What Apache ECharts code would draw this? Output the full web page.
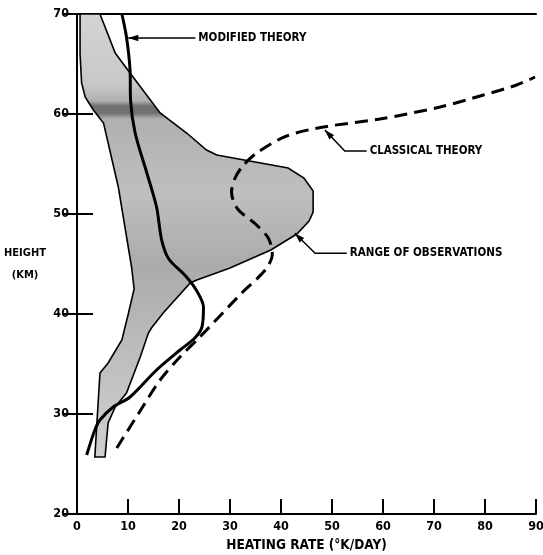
<!DOCTYPE html>
<html>
<head>
<meta charset="utf-8">
<script src="https://cdn.jsdelivr.net/npm/echarts@6/dist/echarts.min.js"></script>
<style>
  html, body { margin: 0; padding: 0; background: #fff; }
  #chart { width: 543px; height: 555px; }
</style>
</head>
<body>
<div id="chart"></div>
<script>
// Axis ticks
const heatingTicks = [0, 10, 20, 30, 40, 50, 60, 70, 80, 90];
const heightTicks = [20, 30, 40, 50, 60, 70];

// Envelope of observed heating rates: [heating rate °K/day, height km], traced clockwise
const observedRange = [
  [0.6, 70], [4.5, 70], [7.5, 66.1], [10.4, 64.1], [16.3, 60.1], [21.5, 58.1],
  [25.4, 56.4], [27.4, 55.9], [41.4, 54.6], [44.5, 53.6], [46.3, 52.3], [46.3, 50.2],
  [45.5, 49.3], [43.1, 48.0], [38.0, 46.4], [30.0, 44.6], [23.5, 43.4], [22.2, 43.1],
  [16.9, 40.1], [14.6, 38.6], [14.0, 38.1], [12.4, 35.7], [9.7, 32.1], [7.5, 30.7],
  [6.1, 29.1], [5.5, 25.7], [3.5, 25.7], [3.9, 29.1], [4.5, 34.1], [6.1, 35.1],
  [8.8, 37.4], [10.1, 40.1], [11.2, 42.5], [10.7, 44.7], [8.1, 52.7], [5.2, 59.1],
  [3.2, 60.4], [1.6, 61.7], [0.9, 63.1], [0.6, 66.0]
];

// Modified theory profile
const modifiedTheory = [
  [8.8, 70], [9.7, 67.7], [10.4, 64.4], [10.5, 61.4], [11.4, 58.1], [13.7, 54.1],
  [15.6, 50.7], [16.6, 47.4], [18.0, 45.5], [21.3, 43.8], [23.5, 42.3], [24.8, 40.7],
  [24.5, 38.7], [23.1, 37.6], [20.2, 36.4], [15.6, 34.4], [10.4, 31.7], [7.1, 30.7],
  [4.5, 29.4], [3.5, 28.4], [1.9, 25.9]
];

// Classical theory profile
const classicalTheory = [
  [7.8, 26.6], [12.0, 30.0], [16.3, 33.4], [20.0, 35.6], [24.1, 37.7], [32.3, 42.1],
  [36.9, 44.4], [38.3, 46.0], [37.5, 47.6], [35.0, 49.0], [31.5, 50.5], [30.3, 52.2],
  [31.0, 53.6], [32.5, 54.8], [35.2, 56.1], [41.1, 57.8], [48.3, 58.7], [59.4, 59.5],
  [71.2, 60.7], [79.7, 61.9], [86.2, 62.9], [89.8, 63.7]
];

// Callout labels with leader lines (tip on the curve, optional elbow, end at the text)
const callouts = [
  { text: 'MODIFIED THEORY', tip: [10.06, 67.6], elbow: null, end: [23.2, 67.6] },
  { text: 'CLASSICAL THEORY', tip: [48.6, 58.4], elbow: [52.5, 56.3], end: [56.8, 56.3] },
  { text: 'RANGE OF OBSERVATIONS', tip: [42.7, 48.07], elbow: [46.7, 46.07], end: [52.9, 46.07] }
];

const FONT = '"DejaVu Sans Condensed", "DejaVu Sans", sans-serif';
const chart = echarts.init(document.getElementById('chart'), null, { renderer: 'canvas' });

const baseText = { color: '#000', fontFamily: FONT, fontWeight: 'bold' };

function renderEnvelope(params, api) {
  if (params.dataIndex !== 0) return null;
  const pts = observedRange.map(p => api.coord(p));
  const yTop = api.coord([0, 70])[1];
  const yBot = api.coord([0, 20])[1];
  const off = h => (70 - h) / 50;
  const fill = new echarts.graphic.LinearGradient(0, yTop, 0, yBot, [
    { offset: off(70), color: '#d4d4d4' },
    { offset: off(63), color: '#c8c8c8' },
    { offset: off(61.3), color: '#b0b0b0' },
    { offset: off(60.8), color: '#707070' },
    { offset: off(60.1), color: '#707070' },
    { offset: off(59.5), color: '#b0b0b0' },
    { offset: off(52), color: '#bfbfbf' },
    { offset: off(45), color: '#ababab' },
    { offset: off(36), color: '#bdbdbd' },
    { offset: off(26), color: '#cfcfcf' }
  ], true);
  return {
    type: 'polygon',
    shape: { points: pts },
    style: { fill: fill, stroke: '#000', lineWidth: 1.6 }
  };
}

function renderCallout(params, api) {
  const c = callouts[params.dataIndex];
  const tip = api.coord(c.tip);
  const end = api.coord(c.end);
  const path = [tip];
  if (c.elbow) path.push(api.coord(c.elbow));
  path.push(end);
  const from = path[1];
  const dx = tip[0] - from[0], dy = tip[1] - from[1];
  const len = Math.sqrt(dx * dx + dy * dy);
  const ux = dx / len, uy = dy / len;
  const headL = 10, headW = 3.2;
  const bx = tip[0] - ux * headL, by = tip[1] - uy * headL;
  const head = [tip, [bx - uy * headW, by + ux * headW], [bx + uy * headW, by - ux * headW]];
  return {
    type: 'group',
    children: [
      { type: 'polyline', shape: { points: path }, style: { stroke: '#000', lineWidth: 1.5, fill: null } },
      { type: 'polygon', shape: { points: head }, style: { fill: '#000' } },
      {
        type: 'text',
        style: {
          text: c.text, x: end[0] + 3, y: end[1], align: 'left', verticalAlign: 'middle',
          fill: '#000', font: 'bold 11.5px ' + FONT
        }
      }
    ]
  };
}

const option = {
  animation: false,
  backgroundColor: '#fff',
  grid: { left: 77, right: 7, top: 14, bottom: 41, containLabel: false, outerBoundsMode: 'none' },
  xAxis: [
    {
      type: 'value', min: heatingTicks[0], max: heatingTicks[heatingTicks.length - 1], interval: 10,
      position: 'bottom',
      axisLine: { show: true, lineStyle: { color: '#000', width: 2 } },
      axisTick: { show: true, inside: true, length: 15, lineStyle: { color: '#000', width: 2 } },
      axisLabel: Object.assign({}, baseText, { margin: 6, fontSize: 12.5 }),
      splitLine: { show: false },
      name: 'HEATING RATE (°K/DAY)', nameLocation: 'middle', nameGap: 24,
      nameTextStyle: Object.assign({}, baseText, { fontSize: 13.5 })
    },
    {
      type: 'value', min: heatingTicks[0], max: heatingTicks[heatingTicks.length - 1], interval: 10,
      position: 'top',
      axisLine: { show: true, lineStyle: { color: '#000', width: 2 } },
      axisTick: { show: false }, axisLabel: { show: false }, splitLine: { show: false }
    }
  ],
  yAxis: [
    {
      type: 'value', min: heightTicks[0], max: heightTicks[heightTicks.length - 1], interval: 10,
      position: 'left',
      axisLine: { show: true, lineStyle: { color: '#000', width: 2 } },
      axisTick: { show: true, inside: true, length: 16, lineStyle: { color: '#000', width: 2 } },
      axisLabel: Object.assign({}, baseText, { margin: 8, fontSize: 12.5 }),
      splitLine: { show: false },
      name: 'HEIGHT\n(KM)', nameLocation: 'middle', nameRotate: 0, nameGap: 52,
      nameTextStyle: Object.assign({}, baseText, {
        align: 'center', lineHeight: 22, fontSize: 11, padding: [6, 0, 0, 0]
      })
    },
    {
      type: 'value', min: heightTicks[0], max: heightTicks[heightTicks.length - 1], interval: 10,
      position: 'right',
      axisLine: { show: true, lineStyle: { color: '#000', width: 2 } },
      axisTick: { show: true, inside: true, length: 14, lineStyle: { color: '#000', width: 2 } },
      axisLabel: { show: false }, splitLine: { show: false }
    }
  ],
  series: [
    {
      name: 'Range of observations', type: 'custom', xAxisIndex: 0, yAxisIndex: 0,
      renderItem: renderEnvelope, data: observedRange, z: 1, silent: true, clip: true
    },
    {
      name: 'Modified theory', type: 'line', xAxisIndex: 0, yAxisIndex: 0,
      data: modifiedTheory, smooth: 0.3, showSymbol: false, z: 3,
      lineStyle: { color: '#000', width: 3 }
    },
    {
      name: 'Classical theory', type: 'line', xAxisIndex: 0, yAxisIndex: 0,
      data: classicalTheory, smooth: 0.3, showSymbol: false, z: 3,
      lineStyle: { color: '#000', width: 3, type: [13, 7] }
    },
    {
      name: 'Callouts', type: 'custom', xAxisIndex: 0, yAxisIndex: 0,
      renderItem: renderCallout, data: callouts.map(c => c.tip), z: 4, silent: true
    }
  ]
};

chart.setOption(option);
</script>
</body>
</html>
